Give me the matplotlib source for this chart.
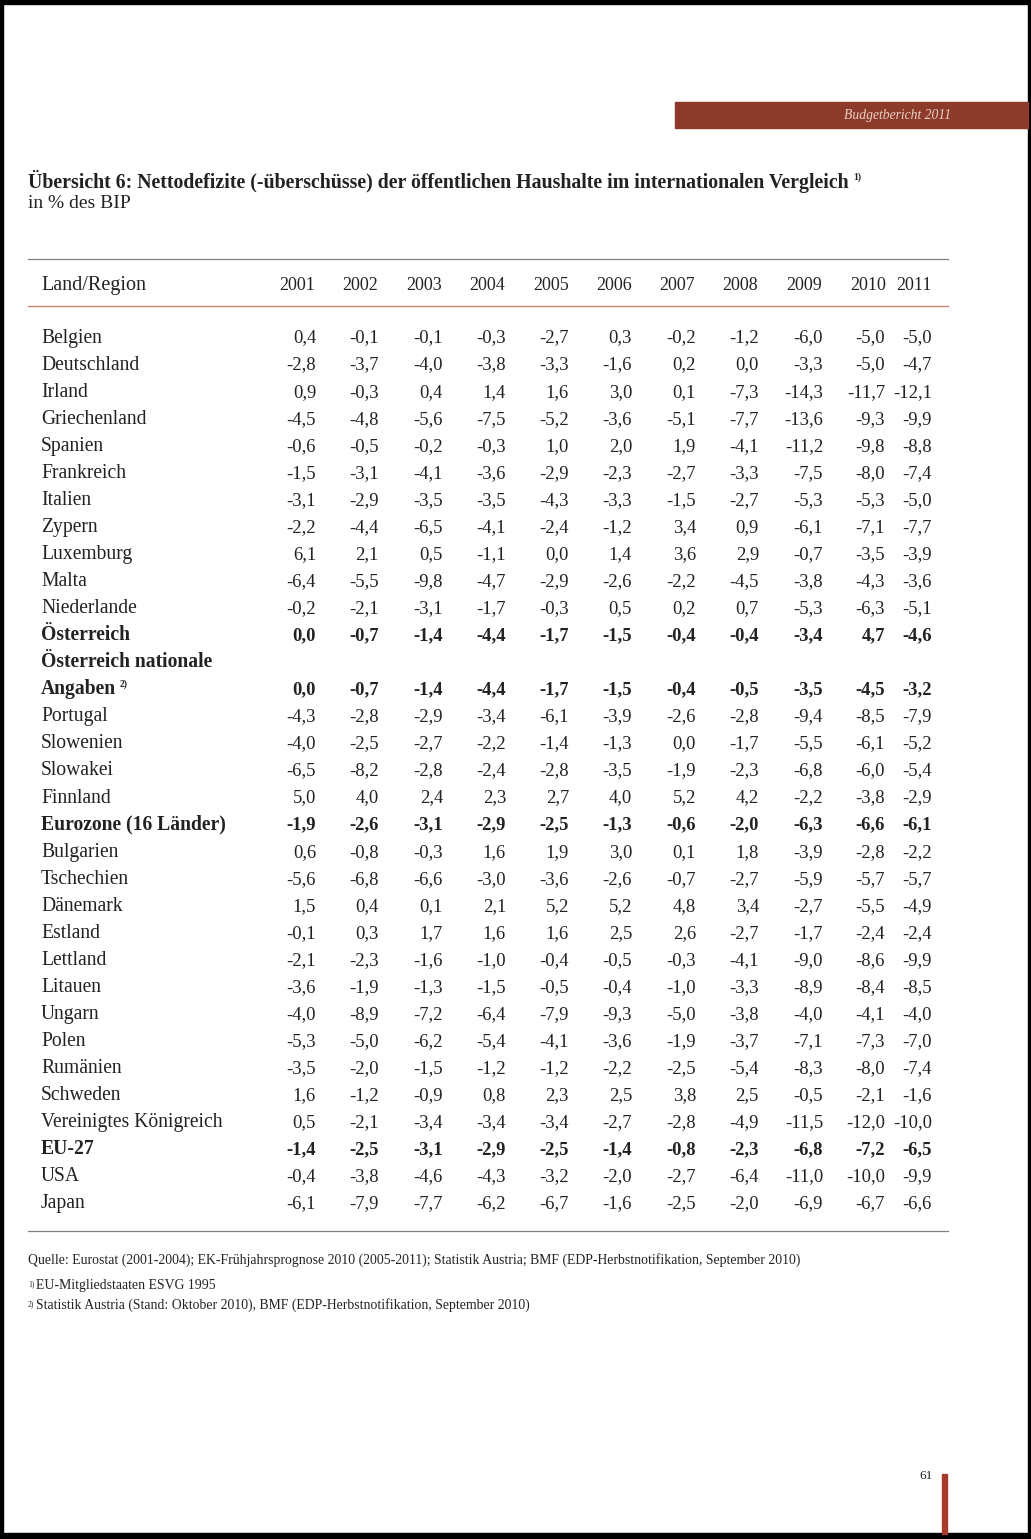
import matplotlib.pyplot as plt
from matplotlib.patches import Rectangle

plt.rcParams['font.family'] = ['Liberation Serif', 'DejaVu Serif']

years = [2001, 2002, 2003, 2004, 2005, 2006, 2007, 2008, 2009, 2010, 2011]

countries = ['Belgien', 'Deutschland', 'Irland', 'Griechenland', 'Spanien',
             'Frankreich', 'Italien', 'Zypern', 'Luxemburg', 'Malta',
             'Niederlande', 'Österreich', 'Angaben', 'Portugal', 'Slowenien',
             'Slowakei', 'Finnland', 'Eurozone (16 Länder)', 'Bulgarien',
             'Tschechien', 'Dänemark', 'Estland', 'Lettland', 'Litauen',
             'Ungarn', 'Polen', 'Rumänien', 'Schweden',
             'Vereinigtes Königreich', 'EU-27', 'USA', 'Japan']

bold_rows = ['Österreich', 'Angaben', 'Eurozone (16 Länder)', 'EU-27']

values = [
    [0.4, -0.1, -0.1, -0.3, -2.7, 0.3, -0.2, -1.2, -6.0, -5.0, -5.0],
    [-2.8, -3.7, -4.0, -3.8, -3.3, -1.6, 0.2, 0.0, -3.3, -5.0, -4.7],
    [0.9, -0.3, 0.4, 1.4, 1.6, 3.0, 0.1, -7.3, -14.3, -11.7, -12.1],
    [-4.5, -4.8, -5.6, -7.5, -5.2, -3.6, -5.1, -7.7, -13.6, -9.3, -9.9],
    [-0.6, -0.5, -0.2, -0.3, 1.0, 2.0, 1.9, -4.1, -11.2, -9.8, -8.8],
    [-1.5, -3.1, -4.1, -3.6, -2.9, -2.3, -2.7, -3.3, -7.5, -8.0, -7.4],
    [-3.1, -2.9, -3.5, -3.5, -4.3, -3.3, -1.5, -2.7, -5.3, -5.3, -5.0],
    [-2.2, -4.4, -6.5, -4.1, -2.4, -1.2, 3.4, 0.9, -6.1, -7.1, -7.7],
    [6.1, 2.1, 0.5, -1.1, 0.0, 1.4, 3.6, 2.9, -0.7, -3.5, -3.9],
    [-6.4, -5.5, -9.8, -4.7, -2.9, -2.6, -2.2, -4.5, -3.8, -4.3, -3.6],
    [-0.2, -2.1, -3.1, -1.7, -0.3, 0.5, 0.2, 0.7, -5.3, -6.3, -5.1],
    [0.0, -0.7, -1.4, -4.4, -1.7, -1.5, -0.4, -0.4, -3.4, 4.7, -4.6],
    [0.0, -0.7, -1.4, -4.4, -1.7, -1.5, -0.4, -0.5, -3.5, -4.5, -3.2],
    [-4.3, -2.8, -2.9, -3.4, -6.1, -3.9, -2.6, -2.8, -9.4, -8.5, -7.9],
    [-4.0, -2.5, -2.7, -2.2, -1.4, -1.3, 0.0, -1.7, -5.5, -6.1, -5.2],
    [-6.5, -8.2, -2.8, -2.4, -2.8, -3.5, -1.9, -2.3, -6.8, -6.0, -5.4],
    [5.0, 4.0, 2.4, 2.3, 2.7, 4.0, 5.2, 4.2, -2.2, -3.8, -2.9],
    [-1.9, -2.6, -3.1, -2.9, -2.5, -1.3, -0.6, -2.0, -6.3, -6.6, -6.1],
    [0.6, -0.8, -0.3, 1.6, 1.9, 3.0, 0.1, 1.8, -3.9, -2.8, -2.2],
    [-5.6, -6.8, -6.6, -3.0, -3.6, -2.6, -0.7, -2.7, -5.9, -5.7, -5.7],
    [1.5, 0.4, 0.1, 2.1, 5.2, 5.2, 4.8, 3.4, -2.7, -5.5, -4.9],
    [-0.1, 0.3, 1.7, 1.6, 1.6, 2.5, 2.6, -2.7, -1.7, -2.4, -2.4],
    [-2.1, -2.3, -1.6, -1.0, -0.4, -0.5, -0.3, -4.1, -9.0, -8.6, -9.9],
    [-3.6, -1.9, -1.3, -1.5, -0.5, -0.4, -1.0, -3.3, -8.9, -8.4, -8.5],
    [-4.0, -8.9, -7.2, -6.4, -7.9, -9.3, -5.0, -3.8, -4.0, -4.1, -4.0],
    [-5.3, -5.0, -6.2, -5.4, -4.1, -3.6, -1.9, -3.7, -7.1, -7.3, -7.0],
    [-3.5, -2.0, -1.5, -1.2, -1.2, -2.2, -2.5, -5.4, -8.3, -8.0, -7.4],
    [1.6, -1.2, -0.9, 0.8, 2.3, 2.5, 3.8, 2.5, -0.5, -2.1, -1.6],
    [0.5, -2.1, -3.4, -3.4, -3.4, -2.7, -2.8, -4.9, -11.5, -12.0, -10.0],
    [-1.4, -2.5, -3.1, -2.9, -2.5, -1.4, -0.8, -2.3, -6.8, -7.2, -6.5],
    [-0.4, -3.8, -4.6, -4.3, -3.2, -2.0, -2.7, -6.4, -11.0, -10.0, -9.9],
    [-6.1, -7.9, -7.7, -6.2, -6.7, -1.6, -2.5, -2.0, -6.9, -6.7, -6.6],
]

source = ('Quelle: Eurostat (2001-2004); EK-Frühjahrsprognose 2010 (2005-2011); '
          'Statistik Austria; BMF (EDP-Herbstnotifikation, September 2010)')
note1 = 'EU-Mitgliedstaaten ESVG 1995'
note2 = 'Statistik Austria (Stand: Oktober 2010), BMF (EDP-Herbstnotifikation, September 2010)'

W, H = 1031, 1539
fig = plt.figure(figsize=(W / 100, H / 100), dpi=100)
ax = fig.add_axes([0, 0, 1, 1])
ax.set_xlim(0, W)
ax.set_ylim(H, 0)
ax.axis('off')

ink = '#222222'
red = '#8c3a2a'
label_fs = 14.1
num_fs = 13.4


def right_edge(txt):
    # x position (data coords) of the right end of a text object
    fig.canvas.draw()
    bb = txt.get_window_extent()
    return ax.transData.inverted().transform((bb.x1, bb.y0))[0]


# scan border
ax.add_patch(Rectangle((0, 0), W, 4, color='black'))
ax.add_patch(Rectangle((0, 0), 3, H, color='black'))
ax.add_patch(Rectangle((1028, 0), 3, H, color='black'))
ax.add_patch(Rectangle((0, 1533), W, 6, color='black'))

# header banner
ax.add_patch(Rectangle((675, 102), 353, 26, color=red))
ax.text(898, 119.5, 'Budgetbericht 2011', style='italic', fontsize=9.8,
        color='#ecd0c6', ha='center', va='baseline')

title = ax.text(28, 188, 'Übersicht 6: Nettodefizite (-überschüsse) der öffentlichen Haushalte '
                'im internationalen Vergleich', fontsize=14.3, weight='bold', color=ink,
                va='baseline')
ax.text(right_edge(title) + 5, 180, '1)', fontsize=7, weight='bold', color=ink,
        va='baseline')
ax.text(28, 208, 'in % des BIP', fontsize=14, color=ink, va='baseline')

# rules
ax.plot([28, 948], [259, 259], color='#808080', lw=0.9)
ax.plot([28, 948], [306, 306], color='#c48672', lw=1.0)
ax.plot([28, 948], [1231, 1231], color='#808080', lw=0.9)

col_right = [316, 379, 443, 506, 569, 632, 696, 759, 823, 885, 932]
col_center = [297, 360, 424, 487, 551, 614, 677, 740, 804, 868, 914]

ax.text(41, 290, 'Land/Region', fontsize=14.5, color=ink, va='baseline')
for x, yr in zip(col_center, years):
    ax.text(x, 290, str(yr), fontsize=13, color=ink, va='baseline', ha='center')

y0, dy = 342.5, 27.06
line = 0
for name, row in zip(countries, values):
    if name == 'Angaben':
        ax.text(41, y0 + line * dy, 'Österreich nationale', fontsize=label_fs,
                weight='bold', color=ink, va='baseline')
        line += 1
    y = y0 + line * dy
    wt = 'bold' if name in bold_rows else 'normal'
    lab = ax.text(41, y, name, fontsize=label_fs, weight=wt, color=ink, va='baseline')
    if name == 'Angaben':
        ax.text(right_edge(lab) + 4, y - 8, '2)', fontsize=7, weight='bold',
                color=ink, va='baseline')
    for x, v in zip(col_right, row):
        ax.text(x, y, f'{v:.1f}'.replace('.', ','), fontsize=num_fs, weight=wt,
                color=ink, va='baseline', ha='right')
    line += 1

ax.text(28, 1264, source, fontsize=9.9, color=ink, va='baseline')
ax.text(28, 1286, '1)', fontsize=5.5, color=ink, va='baseline')
ax.text(36, 1289, note1, fontsize=9.9, color=ink, va='baseline')
ax.text(28, 1306, '2)', fontsize=5.5, color=ink, va='baseline')
ax.text(36, 1309, note2, fontsize=9.9, color=ink, va='baseline')

# page number and marker
ax.text(933, 1479, '61', fontsize=9.5, color=ink, va='baseline', ha='right')
ax.add_patch(Rectangle((942, 1474), 4.5, 60, color='#a83a2a'))

fig.savefig('out.png', dpi=100)
